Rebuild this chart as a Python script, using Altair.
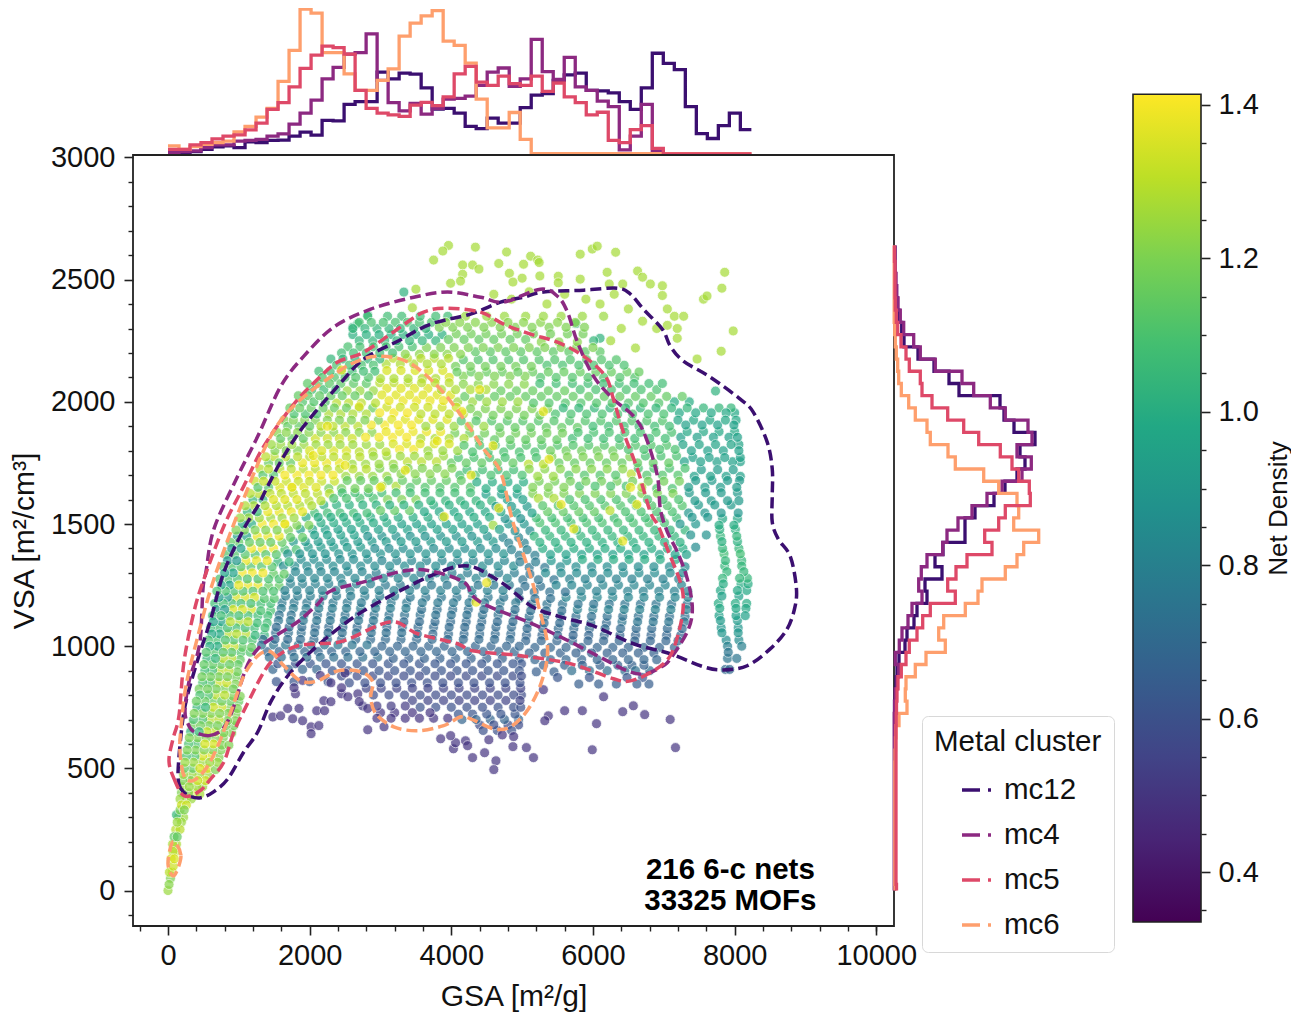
import altair as alt
import pandas as pd

FONT = "Liberation Sans"
SERIES = ["mc12", "mc4", "mc5", "mc6"]
COLORS = ["#3b0f70", "#8c2981", "#de4968", "#fe9f6d"]
X_DOMAIN = [-494, 10250]
Y_DOMAIN = [-145, 3010]
C_DOMAIN = [0.335, 1.414]
VIRIDIS = ["#440154", "#482475", "#414487", "#355f8d", "#2a788e", "#21918c",
           "#22a884", "#44bf70", "#7ad151", "#bddf26", "#fde725"]

sparse_top = [(3960,2640),(3880,2617),(3750,2580),(4340,2633),(4160,2560),(4300,2560),(4160,2522),(4130,2494),
    (3990,2485),(4780,2613),(4670,2566),(4390,2543),(5120,2596),(5220,2580),(5020,2563),(5240,2570),(4820,2526),
    (5000,2506),(4870,2490),(5250,2515),(5510,2514),(5510,2487),(5820,2502),(5820,2604),(5990,2625),(6060,2637),
    (6320,2612),(6200,2530),(6230,2482),(6420,2482),(6630,2535),(6700,2510),(6810,2482),(6980,2475),(6980,2435),
    (7050,2380),(7050,2313),(7150,2350),(7280,2350),(7190,2300),(7190,2260),(7560,2420),(7610,2433),(7860,2530),
    (7820,2465),(7980,2290),(7810,2207),(7470,2175),(3500,2461),(3450,2385),(4600,2440),(4850,2420),(5100,2450),
    (5350,2400),(5600,2440),(5900,2420),(6100,2400),(6300,2440),(6500,2380),(6700,2330),(6900,2300),(6400,2300),
    (6250,2250),(6600,2220)]
sparse_low = [(5300,822),(5370,715),(5320,695),(5600,736),(5850,736),(6050,683),(6420,732),(6570,756),(6730,720),
    (7090,700),(7165,585),(5990,576),(5060,585),(5160,544),(4870,589),(4470,564),(4630,531),(4600,495),(4300,544),
    (4880,630),(4530,617),(4720,637),(6150,793),(1480,710),(1590,715),(1690,745),(1850,745),(1760,703),(1900,695),
    (1780,830),(2020,670),(2130,675),(2020,642),(2100,736),(2200,777),(2300,773),(2210,736),(2540,793),(2700,773),
    (2820,745),(2820,658),(3050,670),(3850,621),(4030,580),(4200,613),(4230,593),(4060,605),(3990,634),(1900,860),
    (2150,880),(2300,850),(2500,890),(2450,830)]
yellow_specks = [(6530,1650),(6620,1580),(5730,1480),(6420,1430),(5550,1580),(5300,1960),(5380,1765),(4590,1820),
    (4670,1565),(4280,1700),(3900,1530),(4350,1180),(4500,1260),(2450,2130),(2700,1980),(2250,1900),(2050,1780),
    (2500,1740),(3000,1650),(3350,1720),(3800,1840),(4150,1960),(4400,2050),(1750,1650),(1650,1500)]
teal_top = [(3330,2449),(2820,2355),(2610,2305),(2680,2320),(7730,2044),(6100,2260),(5760,2320)]

rows = [
 (2350,1.08,[2820,3100,3300,3560,3780,3950]),(2350,1.25,[4200,4500,4750,5050,5300,5550,5850,6150]),
 (2300,1.05,[2610,2780,2950,3120,3280,3470,3640]),(2305,1.2,[3830,4020,4230,4460,4690,4900,5140,5380,5620,5880]),
 (2250,1.05,[2700,2890,3060,3230,3410,3590,3780]),(2255,1.15,[3960,4180,4390,4600,4830,5050]),(2245,1.22,[5270,5520,5780]),(2250,1.05,[6010]),
 (2200,1.08,[2450,2620,2800,2990,3170]),(2195,1.22,[3350,3550,3760,3940,4130]),(2205,1.14,[4340,4550,4770,4980,5210,5440,5660,5890,6100]),
 (2150,1.1,[2380,2560,2730,2900]),(2155,1.28,[3080,3280,3470,3660,3860]),(2145,1.18,[4060,4270,4480,4700,4910,5130]),(2150,1.1,[5350,5570,5800,6010,6230,6440]),
 (2100,1.12,[2180,2350,2500,2650,2830]),(2095,1.28,[3000,3190,3390,3590,3780]),(2100,1.35,[3970]),(2105,1.2,[4170,4390,4610,4830,5040]),(2100,1.12,[5260,5480,5710,5930,6150,6380,6590]),
 (2050,1.08,[2030,2200,2370]),(2045,1.25,[2530,2710,2900]),(2055,1.36,[3090,3290,3480,3670]),(2050,1.28,[3860,4060,4270,4490]),(2045,1.16,[4700,4920,5150,5370,5600]),(2050,1.1,[5820,6040,6260,6470,6680,6900]),
 (2000,1.12,[1900,2060,2220]),(1995,1.3,[2380,2550,2730,2930]),(2005,1.38,[3120,3320,3510,3700,3890]),(2000,1.25,[4090,4300,4500,4720,4940]),(1995,1.12,[5160,5380,5610,5830,6050,6270,6500,6710,6930]),(2000,1.0,[7150,7360]),
 (1950,1.1,[1780,1940,2100]),(1950,1.28,[2270,2440,2610,2800]),(1955,1.4,[2990,3190,3380]),(1950,1.3,[3570,3770,3970,4170]),(1945,1.18,[4370,4590,4810,5030,5250]),(1950,1.1,[5470,5690,5910,6130,6350,6560,6780,7000]),(1955,.98,[7220,7450,7670,7880,8000]),
 (1900,1.15,[1690,1850,2000]),(1900,1.3,[2160,2330,2500,2680]),(1905,1.4,[2870,3060,3250,3440]),(1900,1.25,[3640,3840,4040,4250,4460]),(1895,1.15,[4680,4900,5120,5340,5560,5780]),(1900,1.08,[6000,6220,6440,6650,6870,7080]),(1905,.95,[7310,7540,7760,7990]),
 (1850,1.15,[1590,1750,1910]),(1850,1.33,[2080,2250,2420,2600]),(1855,1.4,[2790,2980,3170,3370]),(1850,1.28,[3570,3770,3970,4180]),(1845,1.15,[4390,4610,4830,5050,5270,5490]),(1850,1.08,[5710,5930,6150,6370,6590,6800,7020]),(1855,.95,[7240,7470,7700,7920,8040]),
 (1800,1.2,[1510,1670,1830]),(1800,1.35,[2000,2170,2340,2520]),(1795,1.3,[2700,2890,3080]),(1805,1.4,[3270,3470]),(1800,1.25,[3670,3880,4090]),(1795,1.1,[4300,4520,4740,4960,5180]),(1800,1.17,[5400,5620,5840,6060,6280]),(1805,1.1,[6500,6720,6940,7160]),(1800,.95,[7390,7620,7840,8060]),
 (1750,1.15,[1420,1570,1730]),(1750,1.38,[1900,2070,2240,2420]),(1745,1.25,[2600,2790,2980,3180]),(1755,1.3,[3380,3580,3790]),(1750,1.15,[4000,4210,4430,4650,4870]),(1745,1.3,[5090,5300]),(1750,1.15,[5520,5740,5960,6190,6410,6630,6850,7070]),(1755,.95,[7290,7520,7750,7970,8080]),
 (1700,1.12,[1340,1490]),(1700,1.4,[1650,1820,1990,2160,2330]),(1695,1.25,[2510,2700,2890,3090]),(1705,1.22,[3290,3490,3700,3910]),(1700,1.1,[4120,4340,4560,4780,5000]),(1695,1.25,[5220,5440]),(1700,1.12,[5660,5880,6100,6320]),(1705,1.3,[6540]),(1700,1.12,[6760,6980,7200]),(1695,.95,[7430,7660,7880,8080]),
 (1650,1.12,[1270,1420]),(1650,1.36,[1580,1750,1920,2090]),(1645,1.18,[2270,2450,2640,2830]),(1655,1.28,[3020,3220]),(1650,1.12,[3420,3630,3840,4050,4270]),(1645,1.0,[4490,4710,4930]),(1650,1.2,[5150,5370,5590]),(1655,1.1,[5810,6030,6250,6470]),(1650,1.28,[6690]),(1645,1.1,[6900,7120]),(1650,.93,[7350,7580,7800,8030]),
 (1600,1.05,[1200,1340]),(1600,1.36,[1490,1650,1820]),(1595,1.3,[1990,2160]),(1605,1.1,[2340,2520,2710,2900]),(1600,1.2,[3100,3300,3500]),(1595,1.05,[3710,3920,4130,4350,4570]),(1600,.95,[4790,5010]),(1605,1.28,[5230,5450]),(1600,1.1,[5670,5890,6110,6330,6550,6770,6990,7210]),(1595,.92,[7440,7670,7900,8060]),
 (1550,1.05,[1120,1260]),(1550,1.38,[1410,1570,1740,1900]),(1545,1.08,[2070,2250,2430,2620,2810]),(1555,1.15,[3000,3200,3410]),(1550,.98,[3620,3830,4040,4260,4480,4700]),(1545,.95,[4920,5140]),(1550,1.15,[5360,5580,5800,6020]),(1555,1.3,[6240]),(1550,1.1,[6460,6680,6900,7120]),(1545,.9,[7350,7580,7810,8050]),
 (1500,1.0,[1050,1180]),(1500,1.4,[1330,1490,1650]),(1495,1.2,[1820,1990]),(1505,1.0,[2160,2340,2520,2710,2900,3090]),(1500,.95,[3300,3510,3720,3930,4150,4370]),(1495,1.25,[4590]),(1500,.9,[4810,5030]),(1505,1.1,[5250,5470,5690,5910,6130,6350,6570,6790,7010]),(1500,.9,[7230,7450]),(1495,1.0,[7780,7990]),
 (1450,.95,[980,1110]),(1450,1.38,[1260,1410,1570]),(1445,1.15,[1730,1900]),(1455,.95,[2070,2250,2440,2630]),(1450,.88,[2820,3020,3220,3420,3630,3850,4070,4290,4510]),(1445,.82,[4730,4950]),(1450,1.05,[5170,5390,5610,5830,6050,6270,6490,6710,6930,7150]),(1455,.88,[7380,7600]),(1450,1.05,[7800,8030]),
 (1400,.95,[900,1030]),(1400,1.4,[1180,1330,1490]),(1395,1.1,[1650,1810]),(1405,.92,[1980,2160,2340,2530,2720]),(1400,.85,[2920,3120,3320,3530,3750,3970,4190,4410,4630]),(1395,.8,[4850,5070]),(1400,1.0,[5290,5510,5730,5950,6170,6390,6610,6830,7050,7270]),(1405,.85,[7450]),(1400,1.05,[7830,8060]),
 (1350,.9,[840,970]),(1350,1.38,[1100,1250,1400]),(1345,1.05,[1550,1710]),(1355,.85,[1880,2060,2240,2430,2620,2820]),(1350,.82,[3020,3230,3440,3650,3870,4090,4310,4530,4750]),(1345,.78,[4970,5190]),(1350,.9,[5410,5630]),(1355,1.0,[5850,6070,6290,6510,6730,6950,7170]),(1350,1.05,[7870,8100]),
 (1300,.95,[800,920]),(1300,1.4,[1050,1190,1340]),(1295,1.15,[1490,1640]),(1305,.82,[1800,1980,2160,2350,2540,2740]),(1300,.78,[2940,3150,3360,3570,3790,4010,4230,4450,4670,4890]),(1295,.72,[5110]),(1300,.85,[5330,5550,5770,5990,6210,6430,6650,6870,7090,7270]),(1305,1.05,[7890,8130]),
 (1250,.95,[750,870]),(1250,1.38,[1000,1130,1270]),(1245,1.15,[1420,1570]),(1255,.8,[1730,1900,2080,2270,2460,2660,2860]),(1250,.76,[3070,3280,3500,3720,3940,4160,4380,4600,4820]),(1245,.72,[5040,5260]),(1250,.82,[5480,5700,5920,6140,6360,6580,6800,7020,7250]),(1255,1.0,[7840,8090,8190]),
 (1200,.92,[720,840]),(1200,1.35,[960,1090,1220]),(1195,1.12,[1360,1500]),(1205,.78,[1660,1830,2010,2190,2380,2580,2780,2990,3200]),(1200,.75,[3420,3640,3860,4080,4300,4520,4740]),(1195,.72,[4960,5180,5400]),(1200,.82,[5620,5840,6060,6280,6500,6720,6940,7160,7340]),(1205,.95,[7820,8060]),
 (1150,.92,[680,800]),(1150,1.35,[920,1050,1180]),(1145,1.1,[1310,1450]),(1155,.78,[1600,1770,1950,2130,2320,2520,2720,2930,3140,3360]),(1150,.72,[3580,3800,4020,4240,4460,4680,4900]),(1145,.72,[5120,5340,5560]),(1150,.8,[5780,6000,6220,6440,6660,6880,7100,7320]),(1155,.98,[7790,8020,8160]),
 (1100,.95,[640,760]),(1100,1.3,[880,1010,1130]),(1095,1.08,[1260,1400]),(1105,.75,[1560,1730,1910,2100,2290,2490,2690,2900,3110]),(1100,.7,[3330,3550,3770,3990,4210,4430,4650,4870]),(1095,.7,[5090,5310,5530,5750,5970,6190]),(1100,.75,[6410,6630,6850,7070,7290]),(1105,.92,[7800,8040]),
 (1050,.98,[620,730]),(1050,1.3,[850,970,1100]),(1045,1.05,[1230,1360]),(1055,.72,[1520,1700,1880,2070,2260,2460,2660,2870,3080,3300]),(1050,.7,[3520,3740,3960,4180,4400,4620,4840]),(1045,.68,[5060,5280,5500,5720,5940,6160,6380,6600,6820,7040,7240]),(1055,.9,[7820,8050]),
 (1000,1.0,[590,700]),(1000,1.32,[810,930]),(995,1.15,[1050,1180]),(1005,.75,[1320,1490,1660,1840,2020,2210,2400,2600,2810]),(1000,.68,[3020,3240,3460,3680,3900,4120,4340,4560,4780,4960]),(995,.68,[5180,5400,5620,5840,6060,6280,6500,6720,6940,7150]),(1000,.8,[7900,8100]),
 (950,1.05,[550,670]),(950,1.3,[780,900]),(945,1.15,[1020]),(955,.72,[1430,1600,1780,1960,2150,2340,2540,2750,2960]),(950,.66,[3180,3400,3620,3840,4060,4280,4500,4720,4960]),(945,.68,[5180,5400,5620,5840,6060,6280,6500,6720,6900]),(950,.75,[7900,8030]),
 (900,1.08,[520,630]),(900,1.3,[740,860]),(895,1.18,[980]),(905,.68,[1480,1700,1900,2100]),(900,.62,[2320,2540,2760,2980,3200,3420,3640,3860,4080,4300,4520,4740,4960]),(895,.65,[5200,5450]),(900,.72,[5700,5950,6200,6450,6600,6800]),(905,.7,[7870,7930]),
 (850,1.1,[490,600]),(850,1.33,[710,830]),(845,1.2,[950]),(855,.62,[1530,1780,2000,2260]),(850,.6,[2560,2780,3000,3220,3440,3660,3880,4100,4320,4540,4760,4970]),(845,.65,[5800,6080,6330,6620,6790]),
 (800,1.1,[450,570]),(800,1.3,[680,800]),(795,1.2,[920,1020]),(805,.5,[1800,2450,2680]),(800,.58,[2900,3120,3340,3560,3780,4000,4220,4440,4660,4880,4990]),
 (750,1.05,[410,530]),(750,1.33,[640,760]),(745,1.2,[880,980]),(755,.52,[2750,2950,3150,3350]),(750,.6,[3560,3780,4000,4220,4440,4660,4880,4980]),
 (700,1.1,[360,490]),(700,1.3,[600,720]),(695,1.2,[840,950]),(705,.5,[2950,3150,3350,3550,3750,3950]),(700,.68,[4150,4350,4550,4750,4950]),
 (650,1.05,[320,440]),(650,1.32,[550,670]),(645,1.2,[790,900]),(655,.6,[4450,4650,4850]),
 (600,1.1,[290,410]),(600,1.35,[520,640]),(595,1.2,[760,860]),
 (550,1.1,[260,380]),(550,1.35,[490,600]),(545,1.2,[720]),
 (500,1.15,[230,350]),(500,1.35,[450,560]),(495,1.2,[670]),
 (450,1.2,[210,320]),(450,1.33,[420,530]),
 (400,1.2,[190,290]),(400,1.35,[380]),(395,1.27,[450]),
 (350,1.33,[260,190]),(330,1.2,[230,170]),(310,1.05,[120]),(280,1.25,[190,130]),(250,1.3,[170,110]),
 (220,1.15,[130,85]),(190,1.28,[120,65]),(160,1.3,[105,70]),(130,1.35,[90,45]),(100,1.33,[75]),
 (75,1.3,[60,20]),(50,1.2,[35]),(25,1.22,[15]),(0,1.25,[0]),
]

rows_between = [
 (2325,1.1,[2700,2870,3040,3210,3380,3550,3720]),(2325,1.22,[3920,4120,4340,4570,4800,5020,5260,5500,5750]),
 (2275,1.02,[2610,2800,2980,3150,3320,3500,3680,3870]),(2278,1.18,[4070,4280,4490,4710,4930,5160,5400,5640,5860]),
 (2225,1.1,[2540,2710,2900,3080,3260,3450]),(2222,1.2,[3650,3850,4040,4240,4450,4660,4880,5100,5320,5550,5770,6000]),
 (2175,1.05,[2300,2470,2640,2820,2990]),(2178,1.3,[3180,3380,3570,3760,3960]),(2172,1.12,[4170,4380,4590,4810,5020,5240,5460,5680,5910,6120,6330]),
 (2125,1.08,[2130,2290,2450,2600,2760,2920]),(2128,1.35,[3090,3290,3490,3680,3880]),(2122,1.16,[4080,4280,4500,4720,4940,5150,5370,5590,5820,6040,6260,6480,6650]),
 (2075,1.14,[1970,2120,2280,2440,2620,2800]),(2078,1.3,[2990,3190,3390,3580,3770,3970]),(2072,1.22,[4170,4380,4600,4810,5030]),(2075,1.08,[5250,5480,5710,5930,6150,6370,6580,6790,6980]),
 (2025,1.15,[1840,1980,2140,2300,2460,2640,2830]),(2028,1.36,[3020,3220,3410,3600,3800,3990]),(2022,1.15,[4190,4400,4610,4830,5050,5270,5490,5720,5940,6160,6380,6600,6820,7040,7260]),
 (1975,1.16,[1720,1860,2020,2190,2350,2520,2700,2890]),(1978,1.33,[3090,3280,3480,3670,3870,4070]),(1972,1.2,[4270,4480,4700,4920,5140,5360]),(1975,1.05,[5580,5800,6020,6240,6460,6670,6890,7110,7330,7560,7780,7950]),
 (1925,1.2,[1640,1770,1930,2080,2250,2420,2590,2780,2970]),(1928,1.36,[3160,3350,3540,3740,3940]),(1922,1.12,[4140,4350,4570,4790,5010,5230,5450,5670,5890,6110,6330,6550,6760,6980]),(1925,.98,[7200,7420,7650,7870,8020]),
 (1875,1.22,[1540,1670,1830,1990,2160,2340,2510,2700,2880]),(1878,1.38,[3080,3270,3460,3650,3850]),(1872,1.18,[4050,4260,4470,4690,4910,5130,5350,5570]),(1875,1.1,[5790,6010,6230,6450,6670,6890,7110]),(1878,.98,[7330,7560,7780,8000]),
 (1825,1.25,[1460,1590,1750,1920,2090,2260,2430,2610,2800,2990]),(1828,1.35,[3180,3370,3560,3760,3970]),(1822,1.12,[4180,4400,4620,4840,5060,5280,5500,5720,5940,6160,6380,6600,6820,7040]),(1825,.96,[7270,7500,7730,7950,8060]),
 (1775,1.3,[1380,1500,1660,1830,2000,2170,2340,2520,2710]),(1778,1.25,[2900,3090,3280,3480,3680,3890]),(1772,1.1,[4100,4320,4540,4760,4980,5200]),(1775,1.2,[5420,5640,5860,6080,6300,6520]),(1778,1.1,[6740,6960,7180]),(1772,.95,[7410,7640,7860,8080]),
 (1725,1.3,[1300,1420,1580,1740,1910,2080,2250,2420,2610,2800]),(1728,1.2,[2990,3190,3390,3590,3800,4010]),(1722,1.08,[4220,4440,4660,4880]),(1725,1.22,[5100,5320,5540,5760,5980,6200,6420]),(1728,1.1,[6640,6860,7080,7300]),(1722,.93,[7530,7760,7980]),
 (1675,1.32,[1230,1350,1510,1670,1840,2000,2170,2350]),(1678,1.15,[2530,2720,2910,3110,3310,3510,3720,3930,4140]),(1672,1.0,[4360,4580,4800,5020]),(1675,1.18,[5240,5460,5680,5900,6120,6340,6560,6780,7000,7220]),(1678,.92,[7450,7680,7900,8070]),
 (1625,1.3,[1160,1280,1440,1600,1770,1940,2110,2280]),(1628,1.08,[2460,2640,2830,3020,3220,3420,3630,3840,4050,4270]),(1622,.95,[4490,4710,4930]),(1625,1.2,[5150,5370,5590,5810,6030,6250,6470,6690,6910,7130]),(1628,.92,[7360,7590,7810,8040]),
 (1575,1.28,[1090,1210,1370,1530,1690,1860,2030]),(1578,1.02,[2200,2380,2560,2750,2940,3130,3330,3540,3750,3970,4190,4410]),(1572,.92,[4630,4850,5070]),(1575,1.12,[5290,5510,5730,5950,6170,6390,6610,6830,7050,7260]),(1578,.92,[7490,7720,7950]),
 (1525,1.25,[1020,1140,1290,1450,1610,1780]),(1528,1.0,[1950,2120,2300,2480,2670,2860,3050,3250,3460,3670,3880,4100,4320,4540]),(1522,.88,[4760,4980]),(1525,1.08,[5200,5420,5640,5860,6080,6300,6520,6740,6960,7180]),(1528,.9,[7400,7620]),(1522,.98,[7830,8040]),
 (1475,1.2,[960,1080,1230,1380,1540,1700]),(1478,.95,[1870,2040,2220,2400,2590,2780,2970,3170,3380,3590,3800,4020,4240,4460,4680]),(1472,.85,[4900,5110]),(1475,1.05,[5330,5550,5770,5990,6210,6430,6650,6870,7090,7300]),(1478,1.02,[7790,8010]),
 (1425,1.15,[880,1000,1150,1300,1450,1610]),(1428,.92,[1770,1940,2120,2300,2490,2680,2880,3080,3290,3500,3710,3930,4150,4370,4590]),(1422,.8,[4810,5030]),(1425,1.02,[5250,5470,5690,5910,6130,6350,6570,6790,7010,7230]),(1428,1.02,[7820,8040]),
 (1375,1.12,[820,940,1090,1230,1380,1530]),(1378,.88,[1690,1860,2040,2220,2410,2600,2800,3000,3210,3420,3640,3860,4080,4300,4520,4740]),(1372,.78,[4960,5180]),(1375,.95,[5400,5620,5840,6060,6280,6500,6720,6940,7160,7320]),(1378,1.08,[7850,8080]),
 (1325,1.12,[780,900,1030,1170,1320,1470]),(1328,.85,[1630,1790,1960,2140,2330,2520,2720,2920,3130,3340,3560,3780,4000,4220,4440,4660,4880]),(1322,.75,[5100,5320]),(1325,.85,[5540,5760,5980,6200,6420,6640,6860,7080,7300]),(1328,1.05,[7860,8100]),
 (1275,1.1,[730,850,980,1120,1270,1420,1570]),(1278,.82,[1720,1890,2070,2250,2440,2640,2840,3040,3250,3470,3690,3910,4130,4350,4570,4790]),(1272,.74,[5010,5230,5450]),(1275,.8,[5670,5890,6110,6330,6550,6770,6990,7210]),(1278,1.05,[7830,8070,8180]),
 (1225,1.1,[690,810,930,1060,1200,1340,1490]),(1228,.8,[1650,1820,2000,2180,2370,2570,2770,2980,3190,3410,3630,3850,4070,4290,4510,4730]),(1222,.72,[4950,5170,5390,5610]),(1225,.8,[5830,6050,6270,6490,6710,6930,7150,7340]),(1228,.98,[7800,8040,8170]),
 (1175,1.08,[660,780,900,1030,1170,1310,1450]),(1178,.76,[1610,1780,1960,2140,2330,2530,2730,2940,3150,3370,3590,3810,4030,4250,4470,4690,4910]),(1172,.74,[5130,5350,5570,5790,6010,6230,6450,6670,6890,7110,7330]),(1175,1.0,[7770,8010,8170]),
 (1125,1.08,[630,750,870,1000,1130,1270,1410]),(1128,.73,[1570,1740,1920,2110,2300,2500,2700,2910,3120,3340,3560,3780,4000,4220,4440,4660,4880]),(1122,.72,[5100,5320,5540,5760,5980,6200,6420,6640,6860,7080,7300]),(1125,.95,[7780,8020,8150]),
 (1075,1.08,[600,720,840,960,1090,1220,1370]),(1078,.7,[1530,1710,1890,2080,2270,2470,2670,2880,3090,3310,3530,3750,3970,4190,4410,4630,4850]),(1072,.7,[5070,5290,5510,5730,5950,6170,6390,6610,6830,7050,7260]),(1075,.9,[7810,8050]),
 (1025,1.1,[570,690,810,930,1060,1190]),(1028,.7,[1340,1510,1690,1870,2060,2250,2450,2650,2860,3070,3290,3510,3730,3950,4170,4390,4610,4830]),(1022,.68,[5050,5270,5490,5710,5930,6150,6370,6590,6810,7030,7200]),(1025,.85,[7880,8060]),
 (975,1.12,[540,660,780,900,1030,1160]),(978,.68,[1400,1570,1750,1930,2120,2310,2510,2710,2920,3130,3350,3570,3790,4010,4230,4450,4670,4890]),(972,.66,[5100,5320,5540,5760,5980,6200,6420,6640,6860]),(975,.75,[7910]),
 (925,1.15,[510,630,750,870,990]),(928,.62,[1550,1800,2010,2230,2450,2670,2890,3110,3330,3550,3770,3990,4210,4430,4650,4870,4990]),(922,.66,[5300,5600,5850,6100,6350,6550,6720]),
 (875,1.18,[480,600,720,840,960]),(878,.58,[2450,2670,2890,3110,3330,3550,3770,3990,4210,4430,4650,4870,4990]),(872,.62,[5500,5950,6480,6700]),
 (825,1.18,[440,560,680,800,920]),(828,.55,[2800,3010,3230,3450,3670,3890,4110,4330,4550,4770,4980]),
 (775,1.16,[400,520,640,760,880,1000]),(778,.55,[3450,3670,3890,4110,4330,4550,4770,4970]),
 (725,1.2,[370,490,610,730,850,960]),(728,.5,[3000,3200,3450,3700]),(722,.62,[4100,4300,4500,4700,4900]),
 (675,1.18,[340,460,580,700,820,930]),(678,.58,[4400,4600,4800,4950]),
 (625,1.2,[300,420,540,660,780]),(575,1.2,[270,390,510,630,750]),(525,1.25,[240,360,480,590,700]),
 (475,1.25,[220,340,450,560]),(425,1.25,[200,300,410,490]),(375,1.25,[170,260,330]),(300,1.25,[150,220]),
]

contour_mc12 = [(296,388),(183,417),(141,470),(183,634),(254,773),(423,948),(606,1112),(790,1304),(1072,1480),
    (1269,1574),(1410,1656),(1636,1778),(1918,1901),(2397,2064),(2764,2175),(3243,2248),(3708,2318),(4272,2359),
    (4695,2408),(5020,2428),(5302,2449),(5866,2457),(6345,2465),(6528,2441),(6712,2379),(6980,2297),(7092,2228),
    (7276,2167),(7656,2101),(8079,2011),(8263,1958),(8460,1835),(8531,1725),(8531,1615),(8531,1508),(8615,1439),
    (8784,1369),(8869,1247),(8855,1165),(8742,1071),(8502,989),(8178,920),(7840,903),(7558,916),(7092,969),
    (6571,1010),(6007,1083),(5541,1120),(5147,1161),(4794,1243),(4554,1288),(4300,1325),(4061,1325),(3708,1288),
    (3243,1222),(2764,1145),(2397,1071),(2016,977),(1692,879),(1452,773),(1269,650),(1072,568),(846,458),(649,405),(465,380)]
contour_mc4 = [(367,650),(578,634),(776,662),(917,744),(1100,908),(1269,989),(1495,1038),(1833,1100),(2115,1173),
    (2298,1226),(2764,1263),(3328,1308),(3708,1308),(4174,1263),(4300,1206),(4512,1165),(5076,1100),(5541,1038),
    (6063,961),(6486,899),(6740,887),(6994,920),(7092,948),(7332,1059),(7403,1153),(7332,1275),(7191,1386),
    (7050,1468),(6951,1562),(6909,1697),(6740,1860),(6571,1942),(6289,2011),(6007,2105),(5781,2244),(5640,2367),
    (5499,2432),(5259,2461),(4738,2408),(4413,2428),(3948,2449),(3469,2428),(2862,2379),(2341,2306),(1918,2187),
    (1593,2064),(1269,1860),(987,1697),(649,1480),(536,1304),(494,1235),(465,1059),(423,977),(296,854),(240,732),(296,674)]
contour_mc5 = [(14,531),(85,458),(226,388),(437,405),(606,458),(790,527),(931,650),(1100,752),(1354,895),(1551,961),
    (1833,1002),(2115,1010),(2482,1022),(3144,1100),(3525,1051),(4089,1010),(4300,981),(4977,961),(5682,928),
    (6289,867),(6528,858),(6853,899),(7092,961),(7233,1083),(7276,1181),(7233,1263),(7050,1398),(6923,1492),
    (6810,1549),(6627,1725),(6430,1876),(6289,2011),(6176,2105),(5866,2187),(5499,2244),(5118,2277),(4738,2318),
    (4413,2367),(3948,2383),(3610,2367),(3243,2298),(2764,2203),(2397,2163),(2115,2093),(1777,1991),(1354,1819),
    (1072,1656),(790,1492),(508,1275),(367,1141),(226,936),(155,715),(71,621)]
contour_mc6 = [(352,450),(226,470),(169,568),(183,662),(254,838),(423,1042),(649,1275),(1029,1574),(1452,1860),
    (1833,1999),(2397,2122),(2679,2167),(2975,2187),(3384,2163),(3807,2064),(4174,1930),(4456,1807),(4695,1713),
    (4865,1513),(5118,1288),(5231,1165),(5358,1002),(5288,867),(5090,744),(4836,670),(4597,662),(4272,703),
    (4131,711),(3892,675),(3525,654),(3187,670),(2933,724),(2862,793),(2891,854),(2721,895),(2397,899),(2115,858),
    (1875,858),(1636,920),(1452,977),(1269,961),(1072,879),(888,732),(705,593),(536,499)]
contour_mc6_tip = [(71,200),(183,143),(85,61),(0,110)]

gsa_bin_width = 155.4
top_mc12 = [2,2,3,5.3,7.7,8.7,7,13,12,14.3,14.7,18.7,22.7,19.7,34.7,34.3,51,53.7,53.7,83.7,77,82.7,81.7,67.7,46.3,47,
    42,28.7,26.3,37,32,32,47.7,60.3,62,75.3,81,82.7,65.3,64.7,62.7,53.7,46,67.7,103,92.7,86.3,48.7,21.3,16.3,29.3,42,25.3]
top_mc4 = [2,3,3.7,7,9.7,9.7,13.7,14.3,15.3,18.7,21,31,42,55.3,77,88.7,102,103.7,122.7,75.3,52.7,44.3,52,41,47,56.3,
    57,59.3,70.3,83.7,88,69.3,77,117,84.3,76.3,98.7,68.7,65.3,54.3,48.7,4.7,18.7,51,3,.5,.5,.5,.5,.5,.5,.5,.5]
top_mc5 = [5.3,5.3,9.7,12,16,18.7,20,25,32,46,52.7,68.7,87.7,101,110.3,108.7,102,65.3,47,42,40.3,38.7,50.3,53,49.7,58.7,
    82,89.7,73.7,70.3,79.7,72,70.3,79.7,64.3,72.7,58.7,52.7,40.3,43,14.3,12,25.3,29.3,6.3,.7,.7,.7,.7,.7,.7,.7,.7]
top_mc6 = [8.7,5.3,8,10.3,12,13.7,23,28.7,38,47,74.3,106,148,143.7,103.7,103.7,82,65.3,65.3,75.3,87,120.3,133.7,141,
    146.3,115.3,111,93,56.3,27,27,42.7,15.3,1,1,1,1,1,1,1,1,1,1,1,1,1,1,1,1,1,1,1,1]

vsa_edges = [0,25,75,125,175,225,275,325,375,425,475,525,575,625,675,725,775,825,875,925,975,1025,1075,1125,1175,
    1225,1275,1325,1375,1425,1475,1525,1575,1625,1675,1725,1775,1825,1875,1925,1975,2025,2075,2125,2175,2225,2275,
    2325,2375,2425,2475,2525,2575,2640]
right_mc12 = [.5,.5,.5,.5,.5,.5,.5,.5,.5,.5,.5,.5,.5,.5,.5,.5,1.3,2,3,5,11,13,20,23,33,31,48,41,49,71,71,81,100,111,123,131,
    126,141,120,110,106,65,55,40,24,10,7.7,5,3.5,2.5,1.5,1,1]
right_mc4 = [.3,.3,.3,.3,.3,.3,.3,.3,.3,.3,.3,.3,.3,.3,.3,.7,1.3,3,4.7,1.3,5.3,8,14,18,28,24.7,27.3,33,48.7,53,64,78,93,108,
    128,137.3,123,138,134,111.3,96.3,79.7,68,41.3,26.3,19.7,9.7,6.3,4,2.7,2,1,1]
right_mc5 = [2.5,2,2,2,2,2,2,2,2,2,2,2,2,2,2.2,2.5,3,4,7.3,12,15.3,23,28.7,36.3,61.3,53.7,62,73,98,90.7,104.7,111.3,136.3,
    135.3,124.7,118,106.3,84.7,69.7,53.7,38,28,26.3,15.3,12,7,3.7,2.3,1.3,1,1,1,.5]
right_mc6 = [1,.8,.8,.8,.8,.8,.8,.8,.8,.8,.8,1,1.5,2,5,13,11.3,12,21.3,32,51.3,44.7,49.7,71.3,84,88,111.3,123,129.7,144.7,
    119.7,124.7,123,104.7,89.7,61.3,54,36.3,33,21.3,14.7,7.3,4.7,3.7,2.3,1.3,.7,.2,.2,.2,.2,.2,.2]

x_major = [0, 2000, 4000, 6000, 8000, 10000]
x_minor = [-400,400,800,1200,1600,2400,2800,3200,3600,4400,4800,5200,5600,6400,6800,7200,7600,8400,8800,9200,9600,10000]
y_major = [0, 500, 1000, 1500, 2000, 2500, 3000]
y_minor = [-100,100,200,300,400,600,700,800,900,1100,1200,1300,1400,1600,1700,1800,1900,2100,2200,2300,2400,2600,2700,2800,2900]
cb_major = [0.4, 0.6, 0.8, 1.0, 1.2, 1.4]
cb_minor = [0.35,0.45,0.5,0.55,0.65,0.7,0.75,0.85,0.9,0.95,1.05,1.1,1.15,1.25,1.3,1.35]
note_lines = [("216 6-c nets", 7940, 86), ("33325 MOFs", 7940, -41)]

# ---------- tables built from the arrays above
pts = []
for v, d, gs in rows + rows_between:
    pts += [{"gsa": g, "vsa": v, "density": d} for g in gs]
df_body = pd.DataFrame(pts)
# mix the drawing order so neighbouring colours overlap instead of stacking row by row
df_body["_k"] = (df_body["gsa"] * 7 + df_body["vsa"] * 13) % 97
df_body = df_body.sort_values("_k").drop(columns="_k")
df_pts = pd.concat([
    pd.DataFrame([{"gsa": g, "vsa": v, "density": 1.27} for g, v in sparse_top]),
    pd.DataFrame([{"gsa": g, "vsa": v, "density": 1.03} for g, v in teal_top]),
    df_body,
    pd.DataFrame([{"gsa": g, "vsa": v, "density": 1.38} for g, v in yellow_specks]),
    pd.DataFrame([{"gsa": g, "vsa": v, "density": 0.5} for g, v in sparse_low]),
], ignore_index=True)

cont = []
for name, path_id, path in [("mc12", "a", contour_mc12), ("mc4", "b", contour_mc4), ("mc5", "c", contour_mc5),
                            ("mc6", "d", contour_mc6), ("mc6", "e", contour_mc6_tip)]:
    cont += [{"series": name, "path": path_id, "i": i, "gsa": g, "vsa": v} for i, (g, v) in enumerate(path)]
df_cont = pd.DataFrame(cont)

top_rows = []
for name, vals in [("mc12", top_mc12), ("mc4", top_mc4), ("mc6", top_mc6), ("mc5", top_mc5)]:
    seq = vals + [vals[-1]]
    top_rows += [{"series": name, "i": i, "edge": i * gsa_bin_width, "value": h} for i, h in enumerate(seq)]
df_top = pd.DataFrame(top_rows)

right_rows = []
for name, vals in [("mc12", right_mc12), ("mc4", right_mc4), ("mc6", right_mc6), ("mc5", right_mc5)]:
    seq = vals + [vals[-1]]
    right_rows += [{"series": name, "i": i, "edge": vsa_edges[i], "value": h} for i, h in enumerate(seq)]
df_right = pd.DataFrame(right_rows)

origin = pd.DataFrame({"gsa": [0], "vsa": [0], "u0": [0.0], "u1": [1.0]})
x_scale = alt.Scale(domain=X_DOMAIN, nice=False, zero=False)
y_scale = alt.Scale(domain=Y_DOMAIN, nice=False, zero=False)
unit_scale = alt.Scale(domain=[0, 1], nice=False, zero=False)
color_series = alt.Scale(domain=SERIES, range=COLORS)

# ---------- main panel
axis_common = dict(labelFont=FONT, labelFontSize=29, labelColor="#111", tickColor="#222",
                   tickWidth=1.6, grid=False, domain=False)
minor_axes = alt.Chart(origin).mark_point(opacity=0).encode(
    x=alt.X("gsa:Q", scale=x_scale, axis=alt.Axis(orient="bottom", values=x_minor, labels=False, tickSize=5,
                                                  tickColor="#222", tickWidth=1.4, domain=False, grid=False, title=None)),
    y=alt.Y("vsa:Q", scale=y_scale, axis=alt.Axis(orient="left", values=y_minor, labels=False, tickSize=5,
                                                  tickColor="#222", tickWidth=1.4, domain=False, grid=False, title=None)),
)
scatter = alt.Chart(df_pts).mark_circle(size=100, opacity=0.7, stroke="white", strokeWidth=0.8).encode(
    x=alt.X("gsa:Q", scale=x_scale, axis=alt.Axis(orient="bottom", values=x_major, tickSize=9, labelPadding=6, format="d",
            title="GSA [m²/g]", titleFont=FONT, titleFontSize=30, titleFontWeight="normal", titleColor="#111",
            titlePadding=11, **axis_common)),
    y=alt.Y("vsa:Q", scale=y_scale, axis=alt.Axis(orient="left", values=y_major, tickSize=9, labelPadding=9, format="d",
            title="VSA [m²/cm³]", titleFont=FONT, titleFontSize=30, titleFontWeight="normal", titleColor="#111",
            titlePadding=11, **axis_common)),
    color=alt.Color("density:Q", scale=alt.Scale(scheme="viridis", domain=C_DOMAIN), legend=None),
)
contours = alt.Chart(df_cont).mark_line(interpolate="cardinal-closed", strokeDash=[11, 5], strokeWidth=3.5).encode(
    x=alt.X("gsa:Q", scale=x_scale, axis=None),
    y=alt.Y("vsa:Q", scale=y_scale, axis=None),
    order="i:Q", detail="path:N",
    color=alt.Color("series:N", scale=color_series, legend=None),
)
note = alt.Chart(pd.DataFrame(note_lines, columns=["t", "gsa", "vsa"])).mark_text(
    font=FONT, fontSize=29.5, fontWeight="bold", color="black", baseline="middle", align="center").encode(
    x=alt.X("gsa:Q", scale=x_scale, axis=None), y=alt.Y("vsa:Q", scale=y_scale, axis=None), text="t:N")
main = alt.layer(minor_axes, scatter, contours, note).resolve_axis(x="independent", y="independent").resolve_scale(
    color="independent").properties(width=761, height=771, view=alt.ViewConfig(stroke="#222", strokeWidth=1.8))

# ---------- marginal histograms
top = alt.Chart(df_top).mark_line(interpolate="step-after", strokeWidth=3.3).encode(
    x=alt.X("edge:Q", scale=x_scale, axis=None),
    y=alt.Y("value:Q", scale=alt.Scale(domain=[-0.5, 149], nice=False, zero=False), axis=None),
    order="i:Q",
    color=alt.Color("series:N", scale=color_series, legend=None),
).properties(width=761, height=147, view=alt.ViewConfig(stroke=None))

right = alt.Chart(df_right).mark_line(interpolate="step-before", strokeWidth=3.3).encode(
    x=alt.X("value:Q", scale=alt.Scale(domain=[0, 238], nice=False, zero=False), axis=None),
    y=alt.Y("edge:Q", scale=y_scale, axis=None),
    order="i:Q",
    color=alt.Color("series:N", scale=color_series, legend=alt.Legend(
        orient="none", legendX=28, legendY=561, title="Metal cluster", titleFont=FONT, titleFontSize=29.5,
        titleFontWeight="normal", titleColor="#111", titlePadding=16, labelFont=FONT, labelFontSize=29.5,
        labelColor="#111", symbolType="stroke", symbolSize=841, symbolStrokeWidth=3.5, symbolDash=[18, 8, 3, 30],
        rowPadding=14, padding=12, fillColor="white", strokeColor="#d8d8d8", cornerRadius=6, labelOffset=11,
        symbolOffset=26)),
).properties(width=238, height=771, view=alt.ViewConfig(stroke=None))

# ---------- colour bar: its panel runs from the top of the figure, so the top of its domain stays blank
cb_top = 1.4 + 97 / 767.5
cb_scale = alt.Scale(domain=[C_DOMAIN[0], cb_top], nice=False, zero=False)
bar = alt.Chart(pd.DataFrame({"lo": [C_DOMAIN[0]], "hi": [C_DOMAIN[1]], "u0": [0.0], "u1": [1.0]})).mark_rect(
    color=alt.LinearGradient(gradient="linear", x1=0, y1=1, x2=0, y2=0,
                             stops=[alt.GradientStop(offset=i / 10, color=c) for i, c in enumerate(VIRIDIS)]),
    stroke="#222", strokeWidth=1.6).encode(
    x=alt.X("u0:Q", scale=unit_scale, axis=None), x2="u1:Q",
    y=alt.Y("lo:Q", scale=cb_scale, axis=alt.Axis(orient="right", values=cb_major, tickSize=9, labelPadding=8, format=".1f",
            title="Net Density", titleFont=FONT, titleFontSize=26, titleFontWeight="normal", titleColor="#111",
            titleAngle=270, titleX=90, titleY=500, **axis_common)),
    y2="hi:Q",
)
bar_minor = alt.Chart(pd.DataFrame({"v": [0.6], "u": [0.5]})).mark_point(opacity=0).encode(
    x=alt.X("u:Q", scale=unit_scale, axis=None),
    y=alt.Y("v:Q", scale=cb_scale, axis=alt.Axis(orient="right", values=cb_minor, labels=False, tickSize=5, tickColor="#222",
            tickWidth=1.4, domain=False, grid=False, title=None)))
colorbar = alt.layer(bar, bar_minor).resolve_axis(y="independent").properties(
    width=68, height=914, view=alt.ViewConfig(stroke=None))

blank = alt.Chart(origin).mark_point(opacity=0).encode(
    x=alt.X("u0:Q", scale=unit_scale, axis=None), y=alt.Y("u0:Q", scale=unit_scale, axis=None)).properties(
    width=238, height=147, view=alt.ViewConfig(stroke=None))

left_block = alt.concat(top, blank, main, right, columns=2, spacing=0, bounds="flush", align="each").resolve_scale(
    color="independent").resolve_legend(color="independent")
chart = alt.hconcat(left_block, colorbar, spacing=0).resolve_scale(color="independent").resolve_legend(
    color="independent").properties(padding={"left": 0, "top": -6, "right": 0, "bottom": 0})
chart.save("out.html", embed_options={"renderer": "svg", "actions": False})
